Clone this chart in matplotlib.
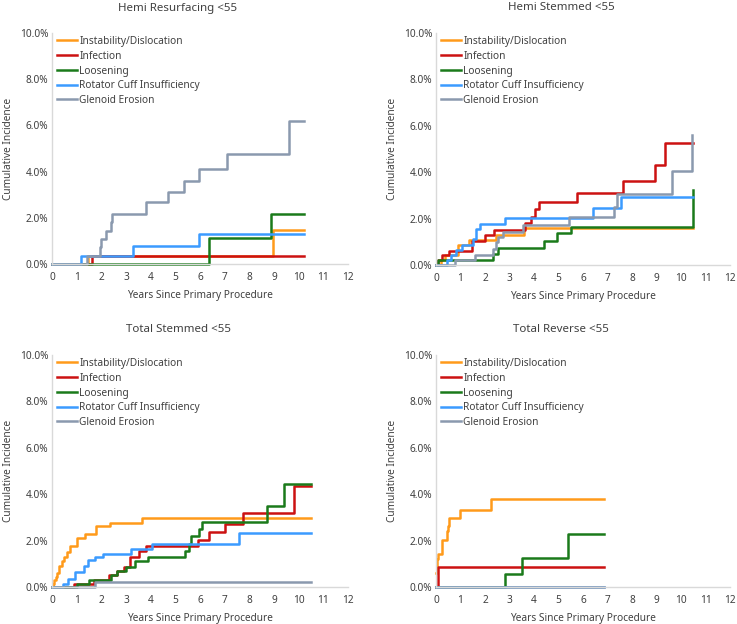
import matplotlib
matplotlib.use('Agg')
import matplotlib.pyplot as plt
from matplotlib.ticker import FuncFormatter

plt.rcParams['font.family'] = ['Noto Sans', 'DejaVu Sans']

series_names = ['Instability/Dislocation', 'Infection', 'Loosening',
                'Rotator Cuff Insufficiency', 'Glenoid Erosion']
series_colors = ['#FF9A1A', '#CC1111', '#1A7A1A', '#3B9BFF', '#8A99AE']

# Hemi Resurfacing <55 (step times in years, cumulative incidence in %)
hr_inst_x = [0, 1.46, 8.95, 10.2]
hr_inst_y = [0, 0.36, 1.46, 1.46]
hr_inf_x = [0, 1.62, 10.2]
hr_inf_y = [0, 0.36, 0.36]
hr_loos_x = [0, 6.38, 8.88, 10.2]
hr_loos_y = [0, 1.11, 2.15, 2.15]
hr_rci_x = [0, 1.19, 3.27, 5.97, 10.2]
hr_rci_y = [0, 0.36, 0.79, 1.30, 1.30]
hr_gle_x = [0, 1.4, 1.94, 1.99, 2.2, 2.38, 2.43, 3.83, 4.7, 5.35, 5.97, 7.1, 9.6, 10.2]
hr_gle_y = [0, 0.36, 0.72, 1.08, 1.44, 1.8, 2.18, 2.67, 3.12, 3.58, 4.11, 4.76, 6.18, 6.18]

# Hemi Stemmed <55
hs_inst_x = [0, 0.2, 0.35, 0.9, 1.35, 2.45, 3.6, 10.48]
hs_inst_y = [0, 0.22, 0.43, 0.86, 1.08, 1.3, 1.58, 1.58]
hs_inf_x = [0, 0.08, 0.26, 0.52, 1.48, 2.0, 2.35, 3.62, 3.86, 4.03, 4.22, 5.74, 7.63, 8.95, 9.35, 10.48]
hs_inf_y = [0, 0.2, 0.43, 0.6, 1.05, 1.29, 1.51, 1.80, 2.09, 2.42, 2.71, 3.09, 3.60, 4.29, 5.25, 5.25]
hs_loos_x = [0, 0.1, 2.31, 2.54, 4.4, 4.95, 5.52, 10.48]
hs_loos_y = [0, 0.22, 0.46, 0.72, 1.05, 1.37, 1.65, 3.24]
hs_rci_x = [0, 0.45, 0.6, 0.8, 1.05, 1.5, 1.65, 1.8, 2.8, 6.4, 7.55, 10.48]
hs_rci_y = [0, 0.22, 0.43, 0.65, 0.86, 1.11, 1.55, 1.77, 2.01, 2.45, 2.91, 2.91]
hs_gle_x = [0, 0.79, 1.59, 2.33, 2.45, 2.55, 2.75, 3.56, 5.44, 7.25, 7.38, 9.65, 10.45]
hs_gle_y = [0, 0.22, 0.43, 0.7, 1.0, 1.2, 1.44, 1.73, 2.06, 2.52, 3.06, 4.07, 5.61]

# Total Stemmed <55
ts_inst_x = [0, 0.05, 0.1, 0.15, 0.22, 0.28, 0.42, 0.5, 0.6, 0.72, 1.0, 1.35, 1.78, 2.35, 3.65, 10.5]
ts_inst_y = [0, 0.15, 0.3, 0.45, 0.6, 0.9, 1.1, 1.3, 1.5, 1.75, 2.1, 2.27, 2.62, 2.78, 2.99, 2.99]
ts_inf_x = [0, 0.9, 1.7, 2.3, 2.65, 2.9, 3.17, 3.53, 3.83, 5.9, 6.35, 7.0, 7.75, 9.8, 10.5]
ts_inf_y = [0, 0.15, 0.3, 0.5, 0.7, 0.86, 1.29, 1.55, 1.76, 2.01, 2.37, 2.73, 3.21, 4.36, 4.36]
ts_loos_x = [0, 1.0, 1.5, 2.4, 2.65, 3.0, 3.35, 3.9, 5.4, 5.55, 5.65, 5.95, 6.1, 8.7, 9.4, 10.5]
ts_loos_y = [0, 0.14, 0.32, 0.5, 0.69, 0.86, 1.12, 1.29, 1.55, 1.87, 2.19, 2.52, 2.79, 3.5, 4.42, 4.42]
ts_rci_x = [0, 0.45, 0.65, 0.95, 1.3, 1.45, 1.75, 2.05, 3.2, 4.05, 7.6, 10.5]
ts_rci_y = [0, 0.15, 0.35, 0.65, 0.9, 1.15, 1.3, 1.44, 1.65, 1.87, 2.33, 2.33]
ts_gle_x = [0, 1.75, 10.5]
ts_gle_y = [0, 0.2, 0.2]

# Total Reverse <55
tr_inst_x = [0, 0.03, 0.07, 0.25, 0.45, 0.5, 0.55, 0.97, 2.25, 6.85]
tr_inst_y = [0.6, 1.2, 1.44, 2.04, 2.4, 2.65, 2.99, 3.34, 3.81, 3.81]
tr_inf_x = [0, 0.1, 6.85]
tr_inf_y = [0, 0.86, 0.86]
tr_loos_x = [0, 2.81, 3.52, 5.39, 6.85]
tr_loos_y = [0, 0.58, 1.27, 2.3, 2.3]
tr_rci_x = [0, 6.85]
tr_rci_y = [0, 0]
tr_gle_x = [0, 6.85]
tr_gle_y = [0, 0]

panels = [
    ('Hemi Resurfacing <55', [(hr_inst_x, hr_inst_y), (hr_inf_x, hr_inf_y), (hr_loos_x, hr_loos_y),
                              (hr_rci_x, hr_rci_y), (hr_gle_x, hr_gle_y)]),
    ('Hemi Stemmed <55', [(hs_inst_x, hs_inst_y), (hs_inf_x, hs_inf_y), (hs_loos_x, hs_loos_y),
                          (hs_rci_x, hs_rci_y), (hs_gle_x, hs_gle_y)]),
    ('Total Stemmed <55', [(ts_inst_x, ts_inst_y), (ts_inf_x, ts_inf_y), (ts_loos_x, ts_loos_y),
                           (ts_rci_x, ts_rci_y), (ts_gle_x, ts_gle_y)]),
    ('Total Reverse <55', [(tr_inst_x, tr_inst_y), (tr_inf_x, tr_inf_y), (tr_loos_x, tr_loos_y),
                           (tr_rci_x, tr_rci_y), (tr_gle_x, tr_gle_y)]),
]

W, H = 737, 624
fig = plt.figure(figsize=(W / 100, H / 100), dpi=100)

# axes boxes in pixels: left, right, top, bottom
boxes = [(52, 348, 33, 264), (436, 730, 33, 265), (52, 348, 355, 587), (436, 730, 355, 587)]
title_pos = [(178, 8), (561, 8), (178, 330), (561, 330)]
txt = '#404040'
fs = 7.3

for (title, data), (l, r, t, b), (tx, ty) in zip(panels, boxes, title_pos):
    ax = fig.add_axes([l / W, 1 - b / H, (r - l) / W, (b - t) / H])
    for (xs, ys), name, col in zip(data, series_names, series_colors):
        ax.step(xs, ys, where='post', color=col, lw=1.8, label=name, clip_on=False)
    ax.set_xlim(0, 12)
    ax.set_ylim(0, 10)
    ax.set_xticks(range(0, 13))
    ax.set_yticks([0, 2, 4, 6, 8, 10])
    ax.yaxis.set_major_formatter(FuncFormatter(lambda v, p: f'{v:.1f}%'))
    ax.tick_params(length=0, labelsize=fs, colors=txt)
    ax.tick_params(axis='x', pad=5.5)
    ax.tick_params(axis='y', pad=2.5)
    for s in ['top', 'right']:
        ax.spines[s].set_visible(False)
    for s in ['left', 'bottom']:
        ax.spines[s].set_color('#D9D9D9')
        ax.spines[s].set_linewidth(1)
    ax.set_xlabel('Years Since Primary Procedure', fontsize=fs, color=txt, labelpad=5.5)
    ax.set_ylabel('Cumulative Incidence', fontsize=fs, color=txt)
    ax.yaxis.set_label_coords(-0.13, 0.5)
    ax.legend(loc='upper left', bbox_to_anchor=(0.017, 0.987), frameon=False, fontsize=fs,
              handlelength=2.0, handletextpad=0.2, labelspacing=0.37, borderpad=0,
              borderaxespad=0, labelcolor=txt)
    fig.text(tx / W, 1 - ty / H, title, ha='center', va='center', fontsize=8.3, color=txt)

fig.savefig('out.png', dpi=100)
